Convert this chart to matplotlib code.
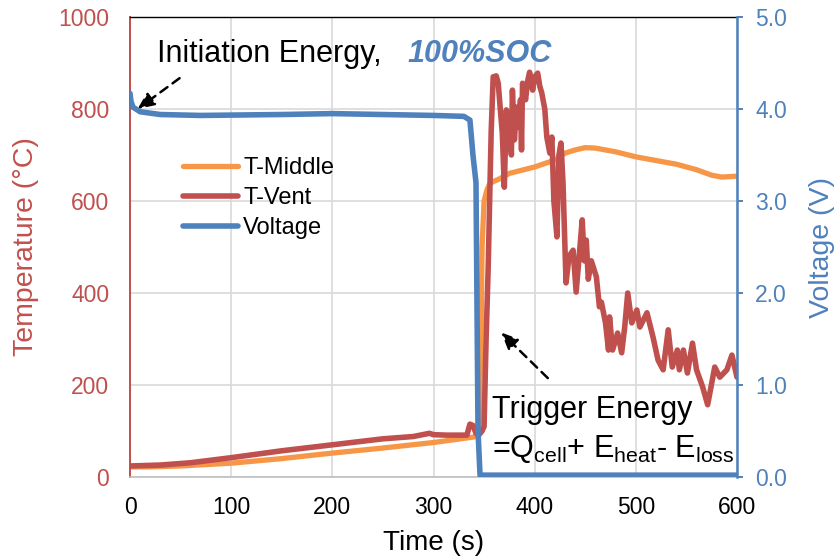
import matplotlib

matplotlib.use("Agg")
import matplotlib.pyplot as plt

plt.rcParams["font.family"] = ["Liberation Sans", "DejaVu Sans"]
plt.rcParams["mathtext.fontset"] = "custom"
plt.rcParams["mathtext.rm"] = "Liberation Sans"
plt.rcParams["mathtext.it"] = "Liberation Sans:italic"

RED = "#C0504D"
ORANGE = "#F79646"
BLUE = "#4F81BD"
GRID = "#D9D9D9"

# T-Middle thermocouple (deg C)
t_mid = [0, 20, 50, 100, 150, 200, 250, 300, 340, 345, 347, 348, 350, 353, 356,
         365, 375, 400, 420, 430, 440, 450, 460, 480, 500, 520, 540, 560, 575,
         585, 600]
temp_mid = [22, 22, 24, 30, 40, 52, 63, 75, 87, 92, 300, 500, 600, 625, 639,
            648, 660, 674, 689, 704, 711, 716, 715, 707, 696, 688, 680, 668, 656,
            652, 654]

# T-Vent thermocouple (deg C)
t_vent = [0, 30, 60, 100, 150, 200, 250, 280, 296, 300, 313, 333, 336, 339, 342,
          345, 348, 350, 352, 354, 357, 359, 362, 364, 366, 368, 370, 372, 374,
          375, 377, 378, 380, 382, 384, 386, 387, 388, 391, 393, 395, 398, 400,
          403, 405, 407, 410, 412, 415, 417, 419, 422, 424, 426, 428, 431, 434,
          438, 441, 444, 447, 449, 451, 453, 456, 461, 464, 466, 470, 473, 474,
          477, 482, 486, 489, 492, 496, 501, 504, 511, 517, 522, 527, 532, 536,
          541, 543, 547, 551, 556, 560, 566, 571, 578, 583, 590, 595, 600]
temp_vent = [24, 26, 31, 42, 57, 70, 83, 88, 95, 92, 91, 91, 115, 112, 95,
             92, 100, 110, 300, 450, 750, 870, 872, 856, 800, 748, 630, 798, 770,
             783, 700, 841, 733, 804, 760, 820, 711, 856, 820, 860, 880, 841, 870,
             878, 850, 835, 800, 739, 704, 739, 600, 522, 700, 726, 640, 422, 480,
             493, 402, 480, 559, 470, 515, 430, 470, 435, 370, 380, 335, 276, 348,
             276, 313, 270, 326, 400, 335, 363, 326, 357, 304, 254, 233, 320, 239,
             276, 233, 276, 226, 291, 233, 196, 157, 239, 217, 233, 265, 217]

# Cell voltage (V)
t_volt = [0, 1, 3, 10, 30, 70, 150, 200, 250, 300, 330, 336, 339, 341, 342, 344,
          346, 600]
volt = [4.17, 4.08, 4.02, 3.97, 3.94, 3.93, 3.94, 3.95, 3.94, 3.93, 3.92, 3.88,
        3.50, 3.30, 3.20, 0.50, 0.02, 0.02]

temp_ticks = [0, 200, 400, 600, 800, 1000]
volt_ticks = [0.0, 1.0, 2.0, 3.0, 4.0, 5.0]
time_ticks = [0, 100, 200, 300, 400, 500, 600]

fig = plt.figure(figsize=(8.38, 5.59), dpi=100)
ax = fig.add_axes([130 / 838, 1 - 477 / 559, 607 / 838, 460 / 559])
ax2 = ax.twinx()

l_mid, = ax.plot(t_mid, temp_mid, color=ORANGE, lw=3.8, solid_joinstyle="round",
                 solid_capstyle="round", label="T-Middle")
l_vent, = ax.plot(t_vent, temp_vent, color=RED, lw=4.0, solid_joinstyle="round",
                  solid_capstyle="round", label="T-Vent")
l_volt, = ax2.plot(t_volt, volt, color=BLUE, lw=4.0, solid_joinstyle="round",
                   solid_capstyle="round", label="Voltage")

ax.set_xlim(0, 600)
ax.set_ylim(0, 1000)
ax2.set_ylim(0, 5)
ax.set_xticks(time_ticks)
ax.set_yticks(temp_ticks)
ax2.set_yticks(volt_ticks)
ax2.set_yticklabels([f"{v:.1f}" for v in volt_ticks])

ax.grid(True, color=GRID, lw=1.2)
ax.set_axisbelow(True)

for side in ("left", "right", "top", "bottom"):
    ax2.spines[side].set_visible(False)
ax.spines["left"].set_color(RED)
ax.spines["left"].set_linewidth(1.4)
ax.spines["right"].set_visible(False)
ax.spines["top"].set_color("black")
ax.spines["top"].set_linewidth(1.0)
ax.spines["bottom"].set_color("#BFBFBF")
ax.spines["bottom"].set_linewidth(1.2)
ax2.spines["right"].set_visible(True)
ax2.spines["right"].set_color(BLUE)
ax2.spines["right"].set_linewidth(1.8)

ax.tick_params(axis="x", length=0, pad=14, labelsize=16.5, labelcolor="black")
ax.tick_params(axis="y", length=0, pad=15, labelsize=16.5, labelcolor=RED)
ax2.tick_params(axis="y", length=4, width=1.4, color=BLUE, pad=9,
                labelsize=16.5, labelcolor=BLUE)

ax.set_xlabel("Time (s)", fontsize=20)
ax.xaxis.set_label_coords(0.5, -0.143)
ax.xaxis.label.set_va("center")
ax.set_ylabel("Temperature (\u00b0C)", fontsize=20.5, color=RED)
ax.yaxis.set_label_coords(-0.172, 0.5)
ax.yaxis.label.set_va("center")
ax2.set_ylabel("Voltage (V)", fontsize=20.5, color=BLUE, rotation=90)
ax2.yaxis.set_label_coords(1.14, 0.5)
ax2.yaxis.label.set_va("center")

ax.legend(handles=[l_mid, l_vent, l_volt], loc="center left",
          bbox_to_anchor=(183 / 838, 1 - 198 / 559),
          bbox_transform=fig.transFigure, frameon=False, fontsize=17,
          handlelength=2.35, handletextpad=0.2, labelspacing=0.33,
          borderpad=0, borderaxespad=0)

# annotation texts and dashed arrows
arrow = dict(arrowstyle="-|>,head_length=1.0,head_width=0.45", color="black",
             lw=1.8, linestyle=(0, (3.5, 2.5)), shrinkA=0, shrinkB=0)

ax.text(27, 902, "Initiation Energy, ", fontsize=22, va="baseline", ha="left")
ax.text(274, 902, "100%SOC", fontsize=22, va="baseline", ha="left",
        color=BLUE, fontweight="bold", fontstyle="italic")
ax.annotate("", xy=(7.5, 800), xytext=(49, 867), arrowprops=arrow)

ax.text(358, 128, "Trigger Energy", fontsize=22, va="baseline", ha="left")
ax.text(358, 43, r"=Q$_{\mathrm{cell}}$+ E$_{\mathrm{heat}}$- E$_{\mathrm{loss}}$",
        fontsize=22, va="baseline", ha="left")
ax.annotate("", xy=(367, 314), xytext=(413, 215), arrowprops=arrow)

fig.savefig("out.png", dpi=100)
plt.close(fig)
